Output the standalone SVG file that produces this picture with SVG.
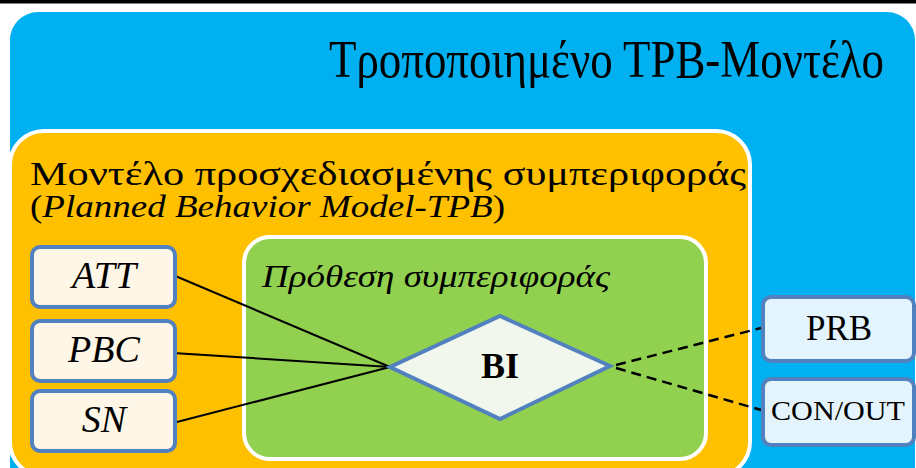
<svg xmlns="http://www.w3.org/2000/svg" width="916" height="468" viewBox="0 0 916 468">
  <defs>
    <style>
      .serif { font-family: "Liberation Serif", "DejaVu Serif", serif; fill: #000; }
      .it { font-style: italic; }
      .factor { fill: #FEF6E6; stroke: #5181BE; stroke-width: 4; }
      .outcome { fill: #E4F4FC; stroke: #5181BE; stroke-width: 4; }
      .solid { stroke: #000; stroke-width: 2; fill: none; }
      .dash { stroke: #000; stroke-width: 2.5; fill: none; stroke-dasharray: 10 6; }
    </style>
  </defs>

  <!-- top rule -->
  <rect x="0" y="0" width="916" height="3.5" fill="#000"/>

  <!-- outer container: modified TPB model -->
  <g id="modified-model">
    <rect x="10" y="12" width="905" height="500" rx="28" fill="#00B0F0"/>
    <!-- condensed heading: natural width at 44px, stretched vertically -->
    <text class="serif" transform="translate(329,77) scale(1,1.18)" x="0" y="0" font-size="44" textLength="555" lengthAdjust="spacingAndGlyphs">Τροποποιημένο ΤΡΒ-Μοντέλο</text>
  </g>

  <!-- planned behavior model container -->
  <g id="tpb-model">
    <rect x="10" y="131" width="740" height="345" rx="34" fill="#FFC000" stroke="#FFFFFF" stroke-width="4"/>
    <text class="serif" x="30" y="185" font-size="34" textLength="716" lengthAdjust="spacingAndGlyphs">Μοντέλο προσχεδιασμένης συμπεριφοράς</text>
    <text class="serif" x="30" y="217" font-size="31" textLength="475" lengthAdjust="spacingAndGlyphs">(<tspan class="it">Planned Behavior Model-TPB</tspan>)</text>
  </g>

  <!-- behavioural intention container -->
  <g id="intention">
    <rect x="244" y="237" width="462" height="222" rx="26" fill="#92D050" stroke="#FFFFFF" stroke-width="4"/>
    <text class="serif it" x="262" y="287" font-size="32" textLength="348" lengthAdjust="spacingAndGlyphs">Πρόθεση συμπεριφοράς</text>
  </g>

  <!-- connectors -->
  <g id="connectors">
    <line class="solid" x1="173" y1="275" x2="390" y2="367"/>
    <line class="solid" x1="173" y1="353" x2="390" y2="367"/>
    <line class="solid" x1="173" y1="423" x2="390" y2="367"/>
    <line class="dash" x1="616" y1="365" x2="761" y2="328"/>
    <line class="dash" x1="616" y1="368" x2="761" y2="410"/>
  </g>

  <!-- predictors -->
  <g id="att">
    <rect class="factor" x="32" y="247" width="143" height="60" rx="8"/>
    <text class="serif it" x="104" y="288" font-size="38" text-anchor="middle">ATT</text>
  </g>
  <g id="pbc">
    <rect class="factor" x="32" y="321" width="143" height="60" rx="8"/>
    <text class="serif it" x="104" y="362" font-size="38" text-anchor="middle">PBC</text>
  </g>
  <g id="sn">
    <rect class="factor" x="32" y="391" width="143" height="60" rx="8"/>
    <text class="serif it" x="104" y="432" font-size="38" text-anchor="middle">SN</text>
  </g>

  <!-- behavioural intention -->
  <g id="bi">
    <polygon points="390,367 500,316 610,366 500,419" fill="#F2F7EE" stroke="#5181BE" stroke-width="4" stroke-linejoin="miter"/>
    <text class="serif" x="500" y="378" font-size="36" font-weight="bold" text-anchor="middle">BI</text>
  </g>

  <!-- outcomes -->
  <g id="prb">
    <rect class="outcome" x="763" y="297" width="151" height="64" rx="8"/>
    <text class="serif" x="839" y="340" font-size="35" text-anchor="middle">PRB</text>
  </g>
  <g id="con-out">
    <rect class="outcome" x="763" y="379" width="151" height="66" rx="8"/>
    <text class="serif" x="771" y="420" font-size="27" textLength="134" lengthAdjust="spacingAndGlyphs">CON/OUT</text>
  </g>
</svg>
